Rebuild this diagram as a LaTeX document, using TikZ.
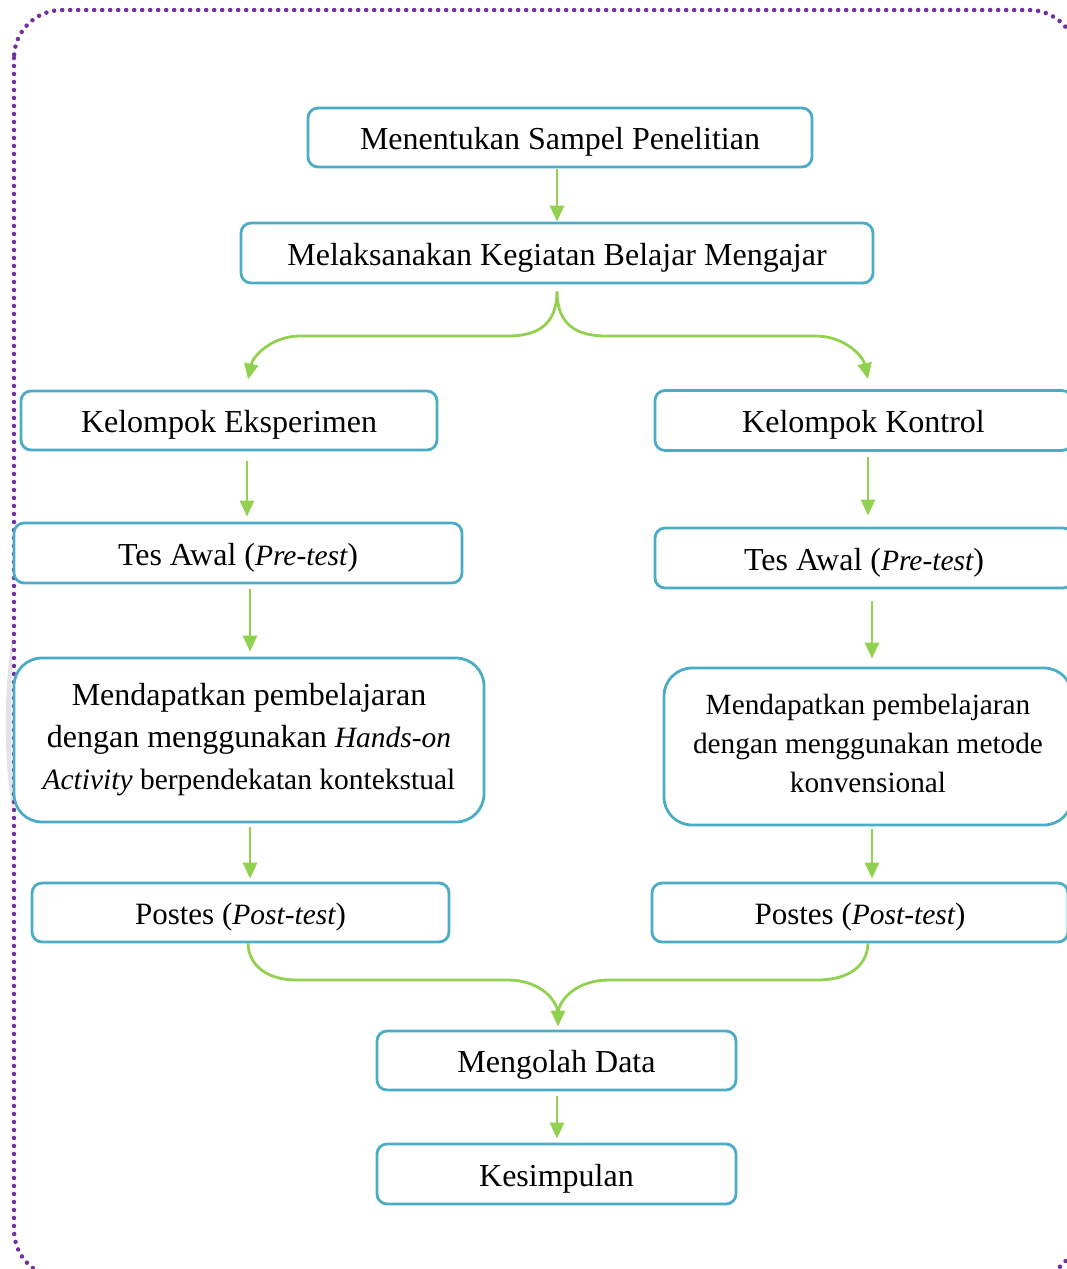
\documentclass[tikz,border=0pt]{standalone}
\usepackage{fontspec}
\setmainfont{Liberation Serif}
\usetikzlibrary{arrows.meta,calc}
\definecolor{boxblue}{HTML}{4BACC6}
\definecolor{arrgreen}{HTML}{92D050}
\definecolor{framepurple}{HTML}{7030A0}
\newcommand{\itsm}[1]{{\fontsize{29.5}{38}\selectfont\itshape #1}}
\begin{document}
\begin{tikzpicture}[x=1pt,y=-1pt,
  boxbase/.style={draw=boxblue, line width=2.8pt, rounded corners=10pt, fill=white, align=center, inner sep=0pt, font=\fontsize{32}{38}\selectfont},
  box/.style={boxbase, text height=25pt, text depth=1pt},
  bigbox/.style={boxbase, rounded corners=28pt},
  arr/.style={draw=arrgreen, line width=2.8pt, -{Triangle[length=16pt,width=14pt]}},
  link/.style={draw=arrgreen, line width=2.8pt}]
\useasboundingbox (0,0) rectangle (1067,1269);
\begin{scope}
\clip (0,0) rectangle (1067,1269);
% faint shadow at left
\fill[gray!22] (14,628) .. controls (3,680) and (3,770) .. (14,815) .. controls (10,770) and (10,680) .. (14,628);
% frame
\draw[framepurple, line width=4.5pt, line cap=round, dash pattern=on 0pt off 8pt, rounded corners=48pt] (14,10) rectangle (1077,1278);
% boxes
\node[box, minimum width=504pt, minimum height=59pt] (s1) at (560,137.5) {Menentukan Sampel Penelitian};
\node[box, minimum width=632pt, minimum height=60pt] (s2) at (557,253) {Melaksanakan Kegiatan Belajar Mengajar};
\node[box, minimum width=416pt, minimum height=59pt] (kE) at (229,420.5) {Kelompok Eksperimen};
\node[box, minimum width=417pt, minimum height=60pt] (kK) at (863.5,420.5) {Kelompok Kontrol};
\node[box, minimum width=448pt, minimum height=60pt] (tAL) at (238,553) {Tes Awal (\itsm{Pre-test})};
\node[box, minimum width=418pt, minimum height=60pt] (tAR) at (864,558) {Tes Awal (\itsm{Pre-test})};
\node[bigbox, minimum width=470pt, minimum height=164pt, font=\fontsize{32}{42}\selectfont] (bigL) at (249,740) {Mendapatkan pembelajaran\\dengan menggunakan \itsm{Hands-on}\\{\fontsize{29.5}{42}\selectfont\textit{Activity} berpendekatan kontekstual}};
\node[bigbox, minimum width=408pt, minimum height=157pt, font=\fontsize{29.3}{39}\selectfont] (bigR) at (868,746.5) {Mendapatkan pembelajaran\\dengan menggunakan metode\\konvensional\\[-33pt]\mbox{}};
\node[box, minimum width=417pt, minimum height=59pt, font=\fontsize{31}{38}\selectfont] (pL) at (240.5,912.5) {Postes (\itsm{Post-test})};
\node[box, minimum width=416pt, minimum height=59pt, font=\fontsize{31}{38}\selectfont] (pR) at (860,912.5) {Postes (\itsm{Post-test})};
\node[box, minimum width=359pt, minimum height=59pt] (mD) at (556.5,1060.5) {Mengolah Data};
\node[box, minimum width=359pt, minimum height=60pt] (kS) at (556.5,1174) {Kesimpulan};
% straight arrows
\draw[arr] ($(s1.south)+(-3,1)$) -- (s2.north);
\draw[arr] ($(kE.south)+(18,10)$) -- ($(tAL.north)+(9,-5)$);
\draw[arr] ($(tAL.south)+(12,5)$) -- ($(bigL.north)+(1,-5)$);
\draw[arr] ($(bigL.south)+(1,4)$) -- ($(pL.north)+(9.5,-3)$);
\draw[arr] ($(kK.south)+(4.5,5)$) -- ($(tAR.north)+(4,-11)$);
\draw[arr] ($(tAR.south)+(8,12)$) -- ($(bigR.north)+(4,-8)$);
\draw[arr] ($(bigR.south)+(4,3)$) -- ($(pR.north)+(12,-3)$);
\draw[arr] ($(mD.south)+(0.5,5)$) -- ($(kS.north)+(0.5,-4)$);
% split connector
\coordinate (split) at ($(s2.south)+(0,7)$);
\coordinate (lt) at ($(kE.north)+(19,-10)$);
\coordinate (rt) at ($(kK.north)+(4.5,-10)$);
\draw[arr] (split) .. controls (557,325) and (537,336) .. (508,336) -- (300,336) .. controls (272,336) and (253,356) .. (lt);
\draw[arr] (split) .. controls (557,325) and (577,336) .. (606,336) -- (816,336) .. controls (844,336) and (863,356) .. (rt);
% merge connector
\coordinate (pLs) at ($(pL.south)+(7.5,0)$);
\coordinate (pRs) at ($(pR.south)+(8,0)$);
\coordinate (mDn) at ($(mD.north)+(1.5,-3)$);
\draw[link] (pLs) .. controls (249,968) and (270,980) .. (297,980) -- (508,980) .. controls (538,980) and (556,998) .. ($(mDn)+(0,-14)$);
\draw[link] (pRs) .. controls (867,968) and (846,980) .. (817,980) -- (609,980) .. controls (578,980) and (560,998) .. ($(mDn)+(0,-14)$);
\draw[arr] ($(mDn)+(0,-15)$) -- (mDn);
\end{scope}
\end{tikzpicture}
\end{document}
